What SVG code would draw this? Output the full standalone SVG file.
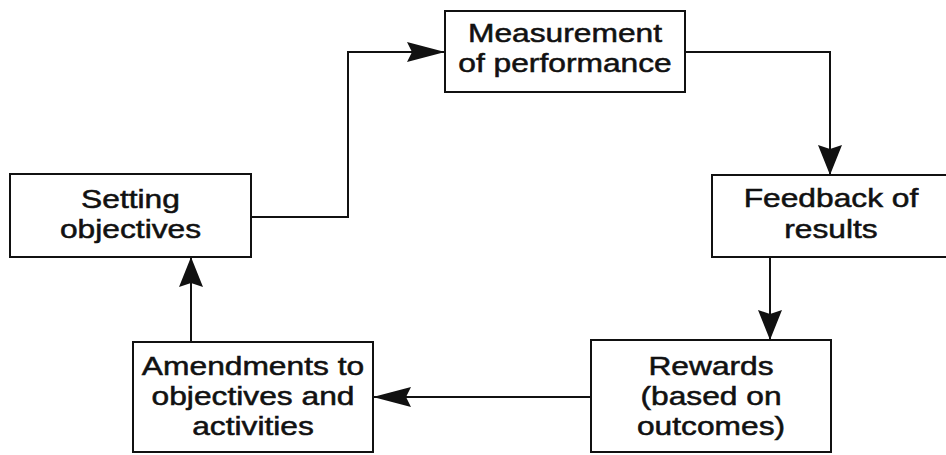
<svg xmlns="http://www.w3.org/2000/svg" width="946" height="455" viewBox="0 0 946 455">
<defs>
<style>
.box{fill:#fff;stroke:#111;stroke-width:2}
.lbl{font-family:"Liberation Sans",Arial,sans-serif;font-size:25px;fill:#111;stroke:#111;stroke-width:0.5;text-anchor:middle}
.con{fill:none;stroke:#111;stroke-width:2}
</style>
<marker id="mh" markerUnits="userSpaceOnUse" markerWidth="38" markerHeight="20" refX="38" refY="10" orient="auto" overflow="visible">
<path d="M0,0 L38,10 L0,20 L5,10 Z" fill="#111"/>
</marker>
<marker id="mv" markerUnits="userSpaceOnUse" markerWidth="30" markerHeight="24" refX="30" refY="12" orient="auto" overflow="visible">
<path d="M0,0 L30,12 L0,24 L4,12 Z" fill="#111"/>
</marker>
</defs>
<rect width="946" height="455" fill="#fff"/>
<g id="connectors">
<path class="con" d="M251,217 H348 V52 H445" marker-end="url(#mh)"/>
<path class="con" d="M685,52 H830 V175" marker-end="url(#mv)"/>
<path class="con" d="M770,257 V340" marker-end="url(#mv)"/>
<path class="con" d="M591,397 H373" marker-end="url(#mh)"/>
<path class="con" d="M191,342 V257" marker-end="url(#mv)"/>
</g>
<g id="setting">
<rect class="box" x="10" y="174" width="241" height="83"/>
<text class="lbl" transform="translate(130.5,0) scale(1.27,1)"><tspan x="0" y="208">Setting</tspan><tspan x="0" y="238">objectives</tspan></text>
</g>
<g id="measurement">
<rect class="box" x="445" y="11" width="240" height="81"/>
<text class="lbl" transform="translate(565,0) scale(1.27,1)"><tspan x="0" y="42">Measurement</tspan><tspan x="0" y="72">of performance</tspan></text>
</g>
<g id="feedback">
<rect class="box" x="712" y="175" width="250" height="82"/>
<text class="lbl" transform="translate(831,0) scale(1.27,1)"><tspan x="0" y="207">Feedback of</tspan><tspan x="0" y="238">results</tspan></text>
</g>
<g id="rewards">
<rect class="box" x="591" y="340" width="240" height="112"/>
<text class="lbl" transform="translate(711,0) scale(1.27,1)"><tspan x="0" y="375">Rewards</tspan><tspan x="0" y="405">(based on</tspan><tspan x="0" y="435">outcomes)</tspan></text>
</g>
<g id="amendments">
<rect class="box" x="133" y="342" width="240" height="110"/>
<text class="lbl" transform="translate(253,0) scale(1.27,1)"><tspan x="0" y="375">Amendments to</tspan><tspan x="0" y="405">objectives and</tspan><tspan x="0" y="435">activities</tspan></text>
</g>
</svg>
